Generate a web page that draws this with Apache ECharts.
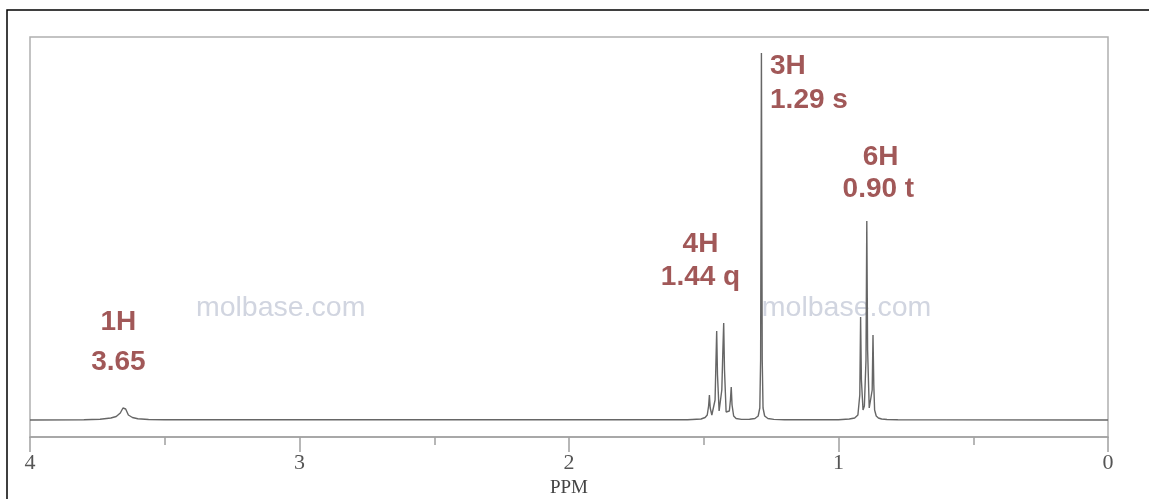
<!DOCTYPE html>
<html>
<head>
<meta charset="utf-8">
<script src="https://cdn.jsdelivr.net/npm/echarts@6/dist/echarts.min.js"></script>
<style>
html,body{margin:0;padding:0;background:#fff;}
#c{width:1149px;height:499px;}
</style>
</head>
<body>
<div id="c"></div>
<script>
// Spectrum trace: chemical shift (ppm) and intensity (arbitrary units)
const ppm = [4.00, 3.80, 3.74, 3.70, 3.68, 3.665, 3.655, 3.65, 3.645, 3.635, 3.62, 3.60, 3.56, 3.50,
  1.56, 1.51, 1.495, 1.487, 1.482, 1.479, 1.476, 1.470, 1.464, 1.458, 1.455, 1.452, 1.449, 1.443, 1.438, 1.433, 1.429, 1.426, 1.423, 1.417, 1.411, 1.405, 1.401, 1.398, 1.395, 1.389, 1.380, 1.36,
  1.33, 1.31, 1.298, 1.292, 1.289, 1.286, 1.283, 1.280, 1.274, 1.262, 1.24, 1.20,
  1.00, 0.96, 0.94, 0.928, 0.921, 0.918, 0.915, 0.909, 0.904, 0.898, 0.895, 0.892, 0.886, 0.880, 0.875, 0.872, 0.869, 0.866, 0.860, 0.852, 0.84, 0.82, 0.78, 0.60, 0.00];
const intensity = [0, 0.3, 0.8, 2, 3.5, 7, 12, 14, 11, 5, 2.5, 1.2, 0.5, 0.2,
  0.3, 1, 2.5, 5, 14, 25, 12, 5, 7, 20, 55, 89, 45, 9, 9, 30, 70, 97, 50, 8, 6, 9, 20, 33, 15, 4, 1.5, 0.6,
  0.8, 1.5, 4, 12, 60, 367, 60, 12, 4, 1.5, 0.6, 0.3,
  0.3, 1, 2, 5, 25, 103, 40, 10, 14, 60, 199, 70, 12, 10, 30, 85, 35, 10, 4, 2, 1, 0.5, 0.2, 0.1, 0];
// Peak annotations: text, shift position, height position
const annoText = ['1H', '3.65', '4H', '1.44 q', '3H', '1.29 s', '6H', '0.90 t'];
const annoPpm = [3.672, 3.672, 1.512, 1.512, 1.254, 1.254, 0.844, 0.852];
const annoVal = [98, 58, 176, 143, 354, 320, 263, 231];
const annoAlign = ['center', 'center', 'center', 'center', 'left', 'left', 'center', 'center'];
// Watermarks
const wmText = ['molbase.com', 'molbase.com'];
const wmPpm = [3.07, 0.97];
const wmVal = [112, 112];
// Axis ticks
const tickLabels = ['0', '1', '2', '3', '4'];

const chart = echarts.init(document.getElementById('c'), null, {renderer: 'canvas'});
const lineData = ppm.map((p, i) => [p, intensity[i]]);
const annoData = annoText.map((t, i) => ({
  value: [annoPpm[i], annoVal[i]], name: t,
  label: {align: annoAlign[i]}
}));
const wmData = wmText.map((t, i) => ({value: [wmPpm[i], wmVal[i]], name: t}));

chart.setOption({
  animation: false,
  backgroundColor: '#fff',
  grid: {left: 30, right: 41, top: 37, bottom: 62, containLabel: false, outerBoundsMode: 'none',
    show: true, borderColor: '#b0b0b0', borderWidth: 1.5},
  xAxis: {
    type: 'value', min: 0, max: 4, interval: 1, inverse: true,
    name: 'PPM', nameLocation: 'middle', nameGap: 40,
    nameTextStyle: {fontFamily: 'Liberation Serif', fontSize: 19, color: '#444'},
    axisLine: {show: true, onZero: false, lineStyle: {color: '#a0a0a0', width: 1.5}},
    axisTick: {show: true, length: 15, lineStyle: {color: '#a0a0a0', width: 1.5}},
    minorTick: {show: true, splitNumber: 2, length: 8, lineStyle: {color: '#a0a0a0', width: 1.5}},
    axisLabel: {fontFamily: 'Liberation Serif', fontSize: 22, color: '#555', margin: 15,
      formatter: v => tickLabels[Math.round(v)]},
    splitLine: {show: false}
  },
  yAxis: {type: 'value', min: -17, max: 383, show: false},
  series: [
    {
      type: 'scatter', data: wmData, symbolSize: 0, silent: true, z: 1,
      label: {show: true, position: 'inside', formatter: p => p.name,
        fontFamily: 'Liberation Sans', fontSize: 28.5, color: '#c6cad8', verticalAlign: 'middle'}
    },
    {
      type: 'line', data: lineData, showSymbol: false, smooth: false, z: 3,
      lineStyle: {color: '#666', width: 1.4}
    },
    {
      type: 'scatter', data: annoData, symbolSize: 0, silent: true, z: 4,
      label: {show: true, position: 'inside', formatter: p => p.name,
        fontFamily: 'Liberation Sans', fontWeight: 'bold', fontSize: 28, color: '#8a2e2e', verticalAlign: 'middle'}
    }
  ],
  graphic: [{
    type: 'rect', shape: {x: 7, y: 10, width: 1300, height: 700},
    style: {fill: 'none', stroke: '#000', lineWidth: 1.5}, z: 100, silent: true
  }]
});
</script>
</body>
</html>
